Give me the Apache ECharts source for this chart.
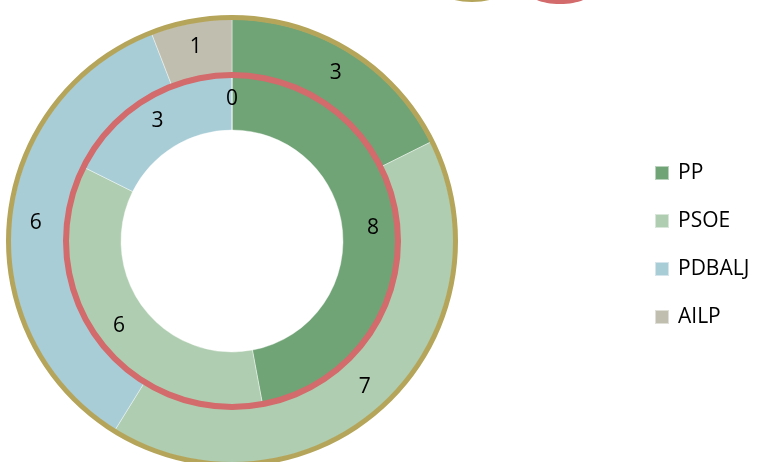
<!DOCTYPE html>
<html>
<head>
<meta charset="utf-8">
<script src="https://cdn.jsdelivr.net/npm/echarts@6/dist/echarts.min.js"></script>
<style>
html,body{margin:0;padding:0;background:#fff;}
#chart{width:759px;height:462px;}
</style>
</head>
<body>
<div id="chart"></div>
<script>
const categories = ['PP', 'PSOE', 'PDBALJ', 'AILP'];
const outerValues = [3, 7, 6, 1];
const innerValues = [8, 6, 3, 0];
const colors = ['#70A476', '#AFCDB0', '#A8CDD7', '#C0BFAF'];

const chart = echarts.init(document.getElementById('chart'));
const FONT = '"Open Sans", "Noto Sans", sans-serif';
const center = [232, 241];

function mk(values) {
  return categories.map((c, i) => ({ name: c, value: values[i], itemStyle: { color: colors[i] } }));
}

const labelCfg = {
  show: true, position: 'inside', color: '#000', fontSize: 21, fontFamily: FONT,
  formatter: '{c}', padding: [8, 0, 0, 0]
};

chart.setOption({
  animation: false,
  legend: {
    orient: 'vertical',
    left: 649,
    top: 157,
    icon: 'rect',
    itemWidth: 14,
    itemHeight: 14,
    itemGap: 26,
    data: categories,
    textStyle: { fontSize: 21, fontFamily: FONT, color: '#000', lineHeight: 22, padding: [0, 0, 0, 4] }
  },
  graphic: [
    { type: 'ellipse', shape: { cx: 472, cy: -8, rx: 29, ry: 10 }, style: { fill: '#B5A55A' }, silent: true },
    { type: 'ellipse', shape: { cx: 560, cy: -8, rx: 31, ry: 12 }, style: { fill: '#D36A6B' }, silent: true }
  ],
  series: [
    {
      name: 'Outer', type: 'pie', center: center, radius: [166, 222],
      startAngle: 90, clockwise: true, avoidLabelOverlap: false,
      itemStyle: { borderColor: 'rgba(255,255,255,0.5)', borderWidth: 0.8 },
      label: labelCfg, labelLine: { show: false },
      emphasis: { disabled: true },
      data: mk(outerValues)
    },
    {
      name: 'Inner', type: 'pie', center: center, radius: [111, 166],
      startAngle: 90, clockwise: true, avoidLabelOverlap: false,
      stillShowZeroSum: true,
      itemStyle: { borderColor: 'rgba(255,255,255,0.5)', borderWidth: 0.8 },
      label: labelCfg, labelLine: { show: false },
      emphasis: { disabled: true },
      data: mk(innerValues)
    },
    {
      name: 'OuterRing', type: 'pie', center: center, radius: [221, 226], silent: true,
      label: { show: false }, labelLine: { show: false }, z: 3,
      itemStyle: { color: '#B5A55A' },
      data: [{ name: 'outer-ring', value: 1 }]
    },
    {
      name: 'InnerRing', type: 'pie', center: center, radius: [163, 169], silent: true,
      label: { show: false }, labelLine: { show: false }, z: 3,
      itemStyle: { color: '#D36A6B' },
      data: [{ name: 'inner-ring', value: 1 }]
    }
  ]
});
</script>
</body>
</html>
